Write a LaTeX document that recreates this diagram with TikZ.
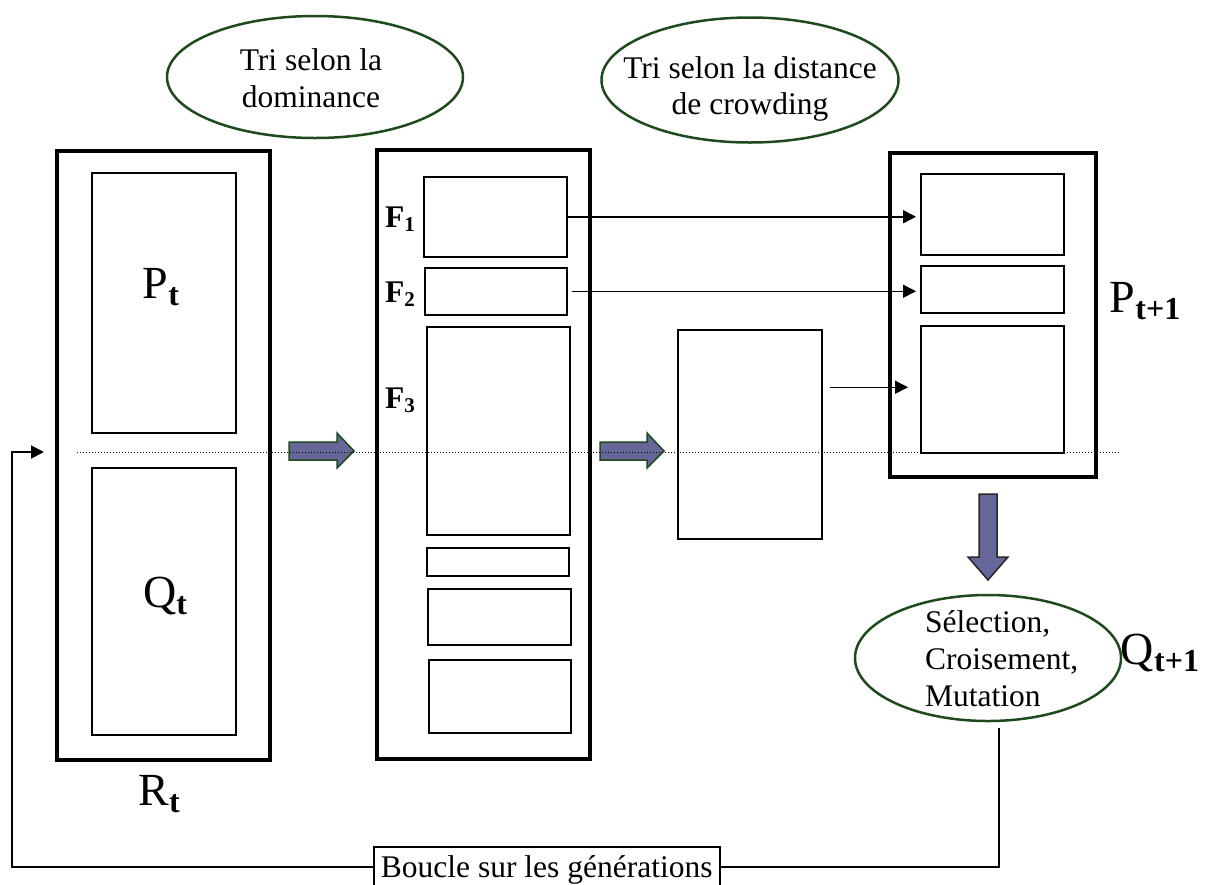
\documentclass[tikz,border=0pt]{standalone}
\usepackage{fontspec}
\setmainfont{Liberation Serif}
\usepackage{tikz}
\usetikzlibrary{positioning, arrows.meta, shapes.geometric}
\definecolor{ovalgreen}{HTML}{1E4A1E}
\definecolor{arrowfill}{HTML}{666699}

\newcommand{\poplabel}[2]{#1\raisebox{-7pt}{\fontsize{32}{32}\selectfont\bfseries #2}}
\newcommand{\frontlabel}[1]{F\raisebox{-4pt}{\fontsize{21}{21}\selectfont #1}}

\tikzset{
  bigbox/.style={draw, line width=3.5pt, anchor=north west, inner sep=0pt},
  subbox/.style={draw, line width=1.5pt, anchor=north west, inner sep=0pt},
  oval/.style={ellipse, draw=ovalgreen, line width=2.5pt, inner sep=0pt},
  ovaltext/.style={align=center, inner sep=0pt},
  bigarrow/.style={fill=arrowfill, draw=ovalgreen, line width=1.5pt, line join=miter},
  arr/.style={line width=1.5pt, -{Triangle[length=13pt,width=13pt]}},
  poptext/.style={font=\fontsize{46}{46}\selectfont, anchor=base, inner sep=0pt},
  frontext/.style={font=\fontsize{31.5}{36}\selectfont\bfseries, anchor=base, inner sep=0pt},
}

\begin{document}
\begin{tikzpicture}[x=1pt, y=-1pt, font=\fontsize{31.5}{36.5}\selectfont]
  \useasboundingbox (0,0) rectangle (1206,884);

  \node[oval, minimum width=296pt, minimum height=122pt] (domsort) at (315,77) {};
  \node[ovaltext] (domtxt) at (311,78) {Tri selon la\\dominance};
  \node[oval, minimum width=297pt, minimum height=125pt] (crowdsort) at (750,80) {};
  \node[ovaltext] (crowdtxt) at (750,89) {Tri selon la distance\\de crowding};

  \node[bigbox, minimum width=213pt, minimum height=609pt] (rt) at (55,149) {};
  \node[subbox, minimum width=144pt, minimum height=260pt] (pt) at (91,172) {};
  \node[subbox, minimum width=144pt, minimum height=267pt] (qt) at (91,467) {};
  \node[poptext] (ptlab) at (161,298) {\poplabel{P}{t}};
  \node[poptext] (qtlab) at (165,607) {\poplabel{Q}{t}};
  \node[poptext] (rtlab) at (159,805) {\poplabel{R}{t}};

  \node[bigbox, minimum width=213pt, minimum height=609pt] (fronts) at (375,148) {};
  \node[subbox, minimum width=143pt, minimum height=80pt] (f1) at (423,176) {};
  \node[subbox, minimum width=142pt, minimum height=47pt] (f2) at (424,267) {};
  \node[subbox, minimum width=143pt, minimum height=208pt] (f3) at (426,326) {};
  \node[subbox, minimum width=142pt, minimum height=28pt] (f4) at (426,547) {};
  \node[subbox, minimum width=143pt, minimum height=56pt] (f5) at (427,588) {};
  \node[subbox, minimum width=142pt, minimum height=73pt] (f6) at (428,659) {};
  \foreach \i/\y in {1/227, 2/302, 3/408}
    \node[frontext] (f\i lab) at (400,\y) {\frontlabel{\i}};

  \node[subbox, minimum width=144pt, minimum height=209pt] (crowd) at (677,329) {};

  \node[bigbox, minimum width=206pt, minimum height=324pt] (pnext) at (888,151) {};
  \node[subbox, minimum width=143pt, minimum height=81pt] (nb1) at (920,173) {};
  \node[subbox, minimum width=143pt, minimum height=47pt] (nb2) at (920,265) {};
  \node[subbox, minimum width=143pt, minimum height=127pt] (nb3) at (920,325) {};
  \node[poptext] (pnlab) at (1145,312) {\poplabel{P}{t+1}};

  \node[oval, minimum width=266pt, minimum height=126pt] (genop) at (988,658) {};
  \node[align=left, inner sep=0pt, anchor=west, font=\fontsize{31.5}{37}\selectfont]
    (gentxt) at (925,659) {Sélection,\\Croisement,\\Mutation};
  \node[poptext] (qnlab) at (1160,664) {\poplabel{Q}{t+1}};

  \node[draw, line width=1.5pt, anchor=north west, inner sep=0pt, text depth=0pt,
        minimum width=346pt, minimum height=40pt] (loop) at (373,846) {Boucle sur les générations};

  \draw[bigarrow] (289,442) -- (337,442) -- (337,433) -- (354,451) -- (337,468) -- (337,460) -- (289,460) -- cycle;
  \draw[bigarrow] (600,442) -- (647,442) -- (647,433) -- (664,451) -- (647,468) -- (647,460) -- (600,460) -- cycle;
  \draw[bigarrow, draw=black!85] (979,494) -- (997,494) -- (997,557) -- (1008,557) -- (988,580) -- (968,557) -- (979,557) -- cycle;

  \draw[arr, shorten >=4pt] (f1.east) -- (f1.east -| nb1.west);
  \draw[arr, shorten >=4pt] ([xshift=4pt]f2.east) -- (f2.east -| nb2.west);
  \coordinate (crowdout) at ([shift={(7pt,47pt)}]crowd.east);
  \draw[arr, shorten >=12pt] (crowdout) -- (crowdout -| nb3.west);

  \coordinate (back) at (44,452);
  \draw[line width=1.5pt] ([xshift=11pt,yshift=-6pt]genop.south) |- (loop.east);
  \draw[arr] (loop.west) -| ([xshift=-32pt]back) -- (back);

  \draw[dotted, line width=1pt] (77,452) -- (1120,452);
\end{tikzpicture}
\end{document}
